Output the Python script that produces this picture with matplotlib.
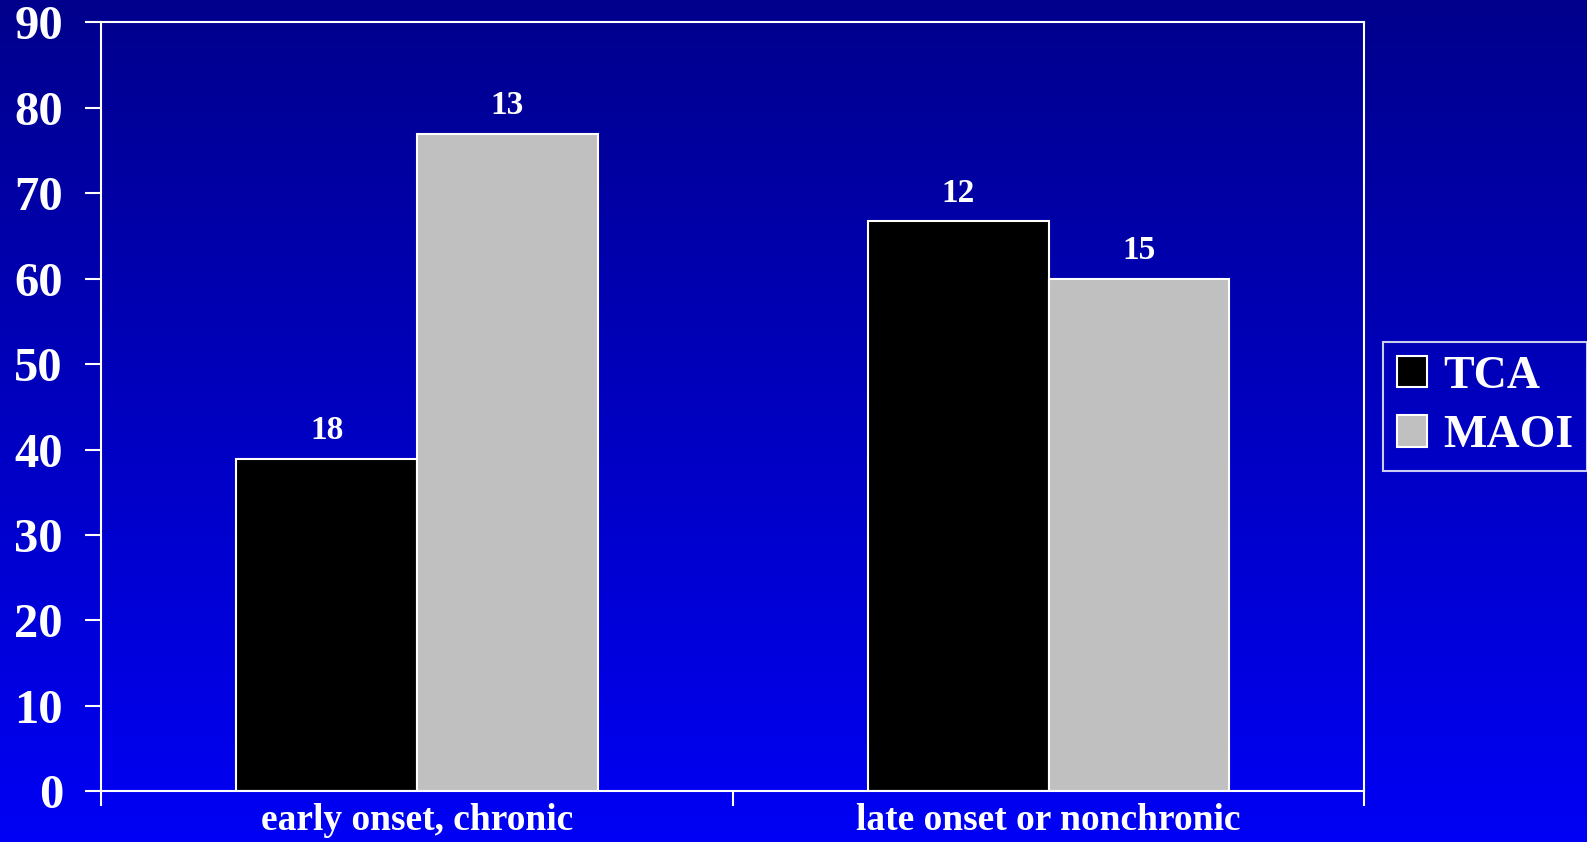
import numpy as np
import matplotlib
matplotlib.use('Agg')
import matplotlib.pyplot as plt

# Response rates (%) by onset group, n per bar shown above each bar
groups = ['early onset, chronic', 'late onset or nonchronic']
tca = [38.9, 66.7]
maoi = [76.9, 60.0]
tca_n = [18, 12]
maoi_n = [13, 15]

plt.rcParams['font.family'] = ['Liberation Serif', 'DejaVu Serif']
plt.rcParams['font.weight'] = 'bold'

fig = plt.figure(figsize=(15.87, 8.42), dpi=100)

# Vertical blue gradient behind everything
bg = fig.add_axes([0, 0, 1, 1], zorder=-10)
grad = np.linspace(0, 1, 256).reshape(-1, 1)
top = np.array([0, 0, 140]) / 255
bottom = np.array([0, 0, 245]) / 255
img = top + grad[..., None] * (bottom - top)
bg.imshow(img, aspect='auto', extent=[0, 1, 0, 1], origin='upper')
bg.axis('off')

ax = fig.add_axes([0.0638, 0.0601, 0.7959, 0.9134])
ax.patch.set_alpha(0)

x = np.arange(len(groups))
w = 0.286
b1 = ax.bar(x - w / 2, tca, w, color='black', edgecolor='white', linewidth=1.5, label='TCA')
b2 = ax.bar(x + w / 2, maoi, w, color='#c0c0c0', edgecolor='white', linewidth=1.5, label='MAOI')

for bars, ns in ((b1, tca_n), (b2, maoi_n)):
    for bar, n in zip(bars, ns):
        ax.text(bar.get_x() + bar.get_width() / 2, bar.get_height() + 1.5, str(n),
                ha='center', va='bottom', color='white', fontsize=24, fontweight='bold')

ax.set_xlim(-0.5, 1.5)
ax.set_ylim(0, 90)
ax.set_yticks(np.arange(0, 91, 10))
ax.set_xticks(x)
ax.set_xticklabels(groups)
ax.set_xticks([-0.5, 0.5, 1.5], minor=True)

for s in ax.spines.values():
    s.set_color('white')
    s.set_linewidth(1.5)

ax.tick_params(axis='y', colors='white', labelsize=35, length=11.5, width=1.5, pad=16)
ax.tick_params(axis='x', which='major', colors='white', labelsize=27, length=0, pad=8)
ax.tick_params(axis='x', which='minor', colors='white', length=11, width=1.5)

leg = ax.legend(loc='upper left', bbox_to_anchor=(1383 / 1587, 1 - 342 / 842),
                bbox_transform=fig.transFigure, fontsize=33, frameon=True,
                handlelength=0.67, handleheight=0.67, handletextpad=0.35,
                labelspacing=0.38, borderpad=0.3, borderaxespad=0, fancybox=False)
leg.get_frame().set_facecolor('none')
leg.get_frame().set_edgecolor('white')
leg.get_frame().set_linewidth(1.5)
for t in leg.get_texts():
    t.set_color('white')

fig.savefig('out.png', dpi=100)
